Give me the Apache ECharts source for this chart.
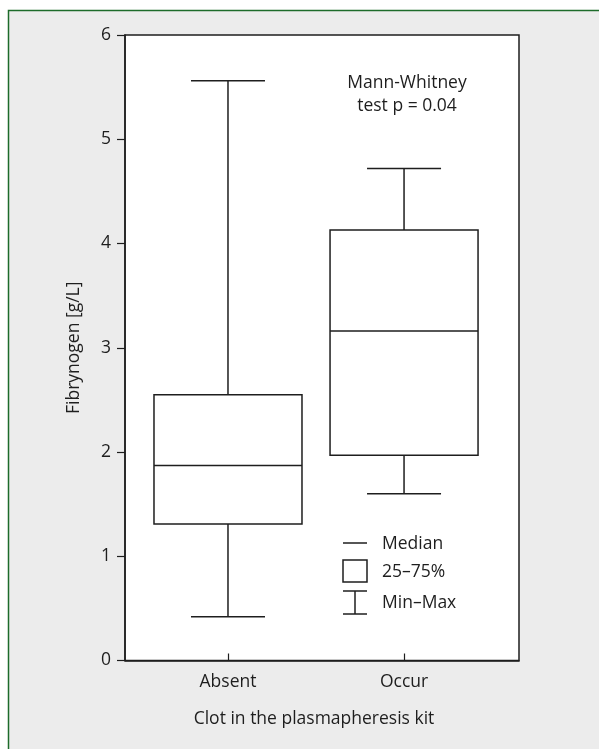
<!DOCTYPE html>
<html>
<head>
<meta charset="utf-8">
<script src="https://cdn.jsdelivr.net/npm/echarts@6/dist/echarts.min.js"></script>
<style>html,body{margin:0;padding:0;background:#fff}#c{width:599px;height:749px}</style>
</head>
<body>
<div id="c"></div>
<script>
// Data
const categories = ['Absent', 'Occur'];
const minVals = [0.42, 1.60];
const q1Vals = [1.31, 1.97];
const medianVals = [1.87, 3.16];
const q3Vals = [2.55, 4.13];
const maxVals = [5.56, 4.72];
const yTicks = [0, 1, 2, 3, 4, 5, 6];
const yLabel = 'Fibrynogen [g/L]';
const xLabel = 'Clot in the plasmapheresis kit';
const annotation = ['Mann-Whitney', 'test p = 0.04'];
const legendItems = ['Median', '25\u201375%', 'Min\u2013Max'];

const rows = categories.map((c, i) => [i + 1, minVals[i], q1Vals[i], medianVals[i], q3Vals[i], maxVals[i]]);
const FONT = 'Open Sans';
const INK = '#1e1e1e';
const FS = 17.5;

const chart = echarts.init(document.getElementById('c'), null, {renderer: 'canvas'});

function renderItem(params, api) {
  const x = api.value(0);
  const pMin = api.coord([x, api.value(1)]);
  const pQ1 = api.coord([x, api.value(2)]);
  const pMed = api.coord([x, api.value(3)]);
  const pQ3 = api.coord([x, api.value(4)]);
  const pMax = api.coord([x, api.value(5)]);
  const cx = pMed[0];
  const bw = 74, cw = 37;
  const st = {stroke: INK, lineWidth: 1.5, fill: null};
  return {
    type: 'group',
    children: [
      {type: 'line', shape: {x1: cx, y1: pMax[1], x2: cx, y2: pQ3[1]}, style: st},
      {type: 'line', shape: {x1: cx, y1: pQ1[1], x2: cx, y2: pMin[1]}, style: st},
      {type: 'line', shape: {x1: cx - cw, y1: pMax[1], x2: cx + cw, y2: pMax[1]}, style: st},
      {type: 'line', shape: {x1: cx - cw, y1: pMin[1], x2: cx + cw, y2: pMin[1]}, style: st},
      {type: 'rect', shape: {x: cx - bw, y: pQ3[1], width: 2 * bw, height: pQ1[1] - pQ3[1]}, style: {stroke: INK, lineWidth: 1.5, fill: '#fff'}},
      {type: 'line', shape: {x1: cx - bw, y1: pMed[1], x2: cx + bw, y2: pMed[1]}, style: st}
    ]
  };
}

const option = {
  backgroundColor: '#ececec',
  animation: false,
  textStyle: {fontFamily: FONT, fontSize: FS, color: INK},
  grid: {left: 125, top: 35, width: 394, height: 625.5, show: true, backgroundColor: '#fff', borderColor: INK, borderWidth: 1.5},
  xAxis: {
    type: 'value', min: 0.415, max: 2.653,
    axisLine: {show: true, lineStyle: {color: INK, width: 1.5}},
    axisTick: {show: true, inside: true, length: 7, customValues: [1, 2], lineStyle: {color: INK, width: 1.2}},
    axisLabel: {show: true, customValues: [1, 2], formatter: function (v) { return categories[Math.round(v) - 1] || ''; }, color: INK, fontSize: FS, fontFamily: FONT, margin: 13},
    splitLine: {show: false}
  },
  yAxis: {
    type: 'value', min: 0, max: 6, interval: 1,
    axisLine: {show: true, lineStyle: {color: INK, width: 1.5}},
    axisTick: {show: true, inside: false, length: 8, lineStyle: {color: INK, width: 1.2}},
    axisLabel: {color: INK, fontSize: FS, fontFamily: FONT, margin: 14},
    splitLine: {show: false},
    name: yLabel, nameLocation: 'middle', nameGap: 42, nameRotate: 90,
    nameTextStyle: {color: INK, fontSize: FS, fontFamily: FONT}
  },
  series: [{
    type: 'custom',
    renderItem: renderItem,
    data: rows,
    encode: {x: 0, y: [1, 2, 3, 4, 5]},
    z: 5
  }],
  graphic: [
    {type: 'rect', shape: {x: 0, y: 0, width: 599, height: 10}, style: {fill: '#fff'}, silent: true},
    {type: 'rect', shape: {x: 0, y: 0, width: 8, height: 749}, style: {fill: '#fff'}, silent: true},
    {type: 'polyline', shape: {points: [[8.5, 749], [8.5, 10.5], [599, 10.5]]}, style: {stroke: '#1d6b2a', lineWidth: 1.5, fill: null}, silent: true},
    {type: 'text', x: 314, y: 719, style: {text: xLabel, fill: INK, fontSize: FS, fontFamily: FONT, textAlign: 'center', textVerticalAlign: 'middle'}},
    {type: 'text', x: 407, y: 83, style: {text: annotation[0], fill: INK, fontSize: FS, fontFamily: FONT, textAlign: 'center', textVerticalAlign: 'middle'}, z: 10},
    {type: 'text', x: 407, y: 106, style: {text: annotation[1], fill: INK, fontSize: FS, fontFamily: FONT, textAlign: 'center', textVerticalAlign: 'middle'}, z: 10},
    // legend
    {type: 'line', shape: {x1: 343, y1: 543, x2: 367, y2: 543}, style: {stroke: INK, lineWidth: 1.5}, z: 10},
    {type: 'rect', shape: {x: 343, y: 560, width: 24, height: 22}, style: {stroke: INK, lineWidth: 1.5, fill: '#fff'}, z: 10},
    {type: 'line', shape: {x1: 343, y1: 591, x2: 367, y2: 591}, style: {stroke: INK, lineWidth: 1.5}, z: 10},
    {type: 'line', shape: {x1: 343, y1: 614, x2: 367, y2: 614}, style: {stroke: INK, lineWidth: 1.5}, z: 10},
    {type: 'line', shape: {x1: 355, y1: 591, x2: 355, y2: 614}, style: {stroke: INK, lineWidth: 1.5}, z: 10},
    {type: 'text', x: 382, y: 544, style: {text: legendItems[0], fill: INK, fontSize: FS, fontFamily: FONT, textVerticalAlign: 'middle'}, z: 10},
    {type: 'text', x: 382, y: 572, style: {text: legendItems[1], fill: INK, fontSize: FS, fontFamily: FONT, textVerticalAlign: 'middle'}, z: 10},
    {type: 'text', x: 382, y: 603, style: {text: legendItems[2], fill: INK, fontSize: FS, fontFamily: FONT, textVerticalAlign: 'middle'}, z: 10}
  ]
};
chart.setOption(option);
</script>
</body>
</html>
